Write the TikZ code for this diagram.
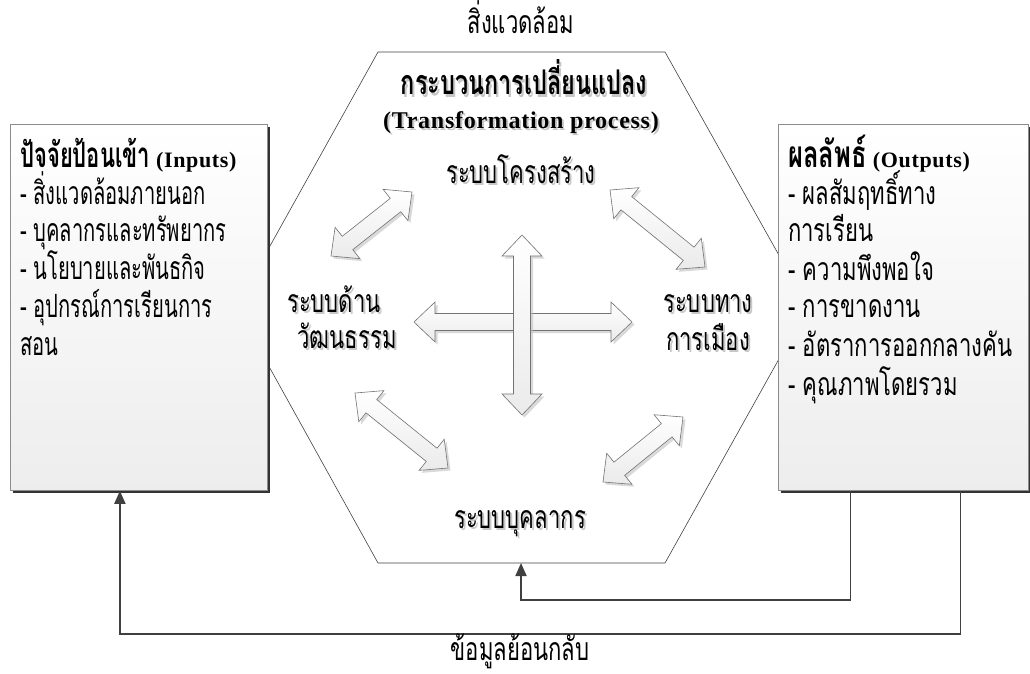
\documentclass[tikz,border=0pt]{standalone}
\usepackage{fontspec}
\setmainfont{Liberation Serif}
\newfontfamily\latb[LetterSpace=3]{Liberation Serif}
\newfontfamily\thai[Script=Thai,FakeStretch=0.69]{Loma}
\newfontfamily\thaiN[Script=Thai,FakeStretch=0.63]{Loma}
\usetikzlibrary{calc,arrows.meta,shadows}
\def\hl{21pt}\def\hw{20pt}\def\sw{8.5pt}
\newcommand\myDblArrow[2]{%
  \path (#1) coordinate (da) (#2) coordinate (db);
  \path ($(da)!\hl!(db)$) coordinate (dp) ($(db)!\hl!(da)$) coordinate (dq);
  \draw[blockarrow] (da) -- ($(dp)!\hw!90:(db)$) -- ($(dp)!\sw!90:(db)$)
    -- ($(dq)!\sw!-90:(da)$) -- ($(dq)!\hw!-90:(da)$) -- (db)
    -- ($(dq)!\hw!90:(da)$) -- ($(dq)!\sw!90:(da)$)
    -- ($(dp)!\sw!-90:(db)$) -- ($(dp)!\hw!-90:(db)$) -- cycle;
}
\newcommand\thbold{\bfseries\fontsize{34}{36}\selectfont}
\newcommand\latbold{\latb\bfseries\fontsize{24}{26}\selectfont}
\newcommand\latboldS{\latb\bfseries\fontsize{22}{24}\selectfont}
\tikzset{
  blockarrow/.style={draw=black!55, line width=0.6pt, top color=white, bottom color=black!8,
    drop shadow={shadow xshift=2.5pt, shadow yshift=-2.5pt, fill=black!25, opacity=0.6}},
  box/.style={draw=black!45, line width=0.8pt, top color=white, bottom color=black!7,
    drop shadow={shadow xshift=3pt, shadow yshift=-3pt, fill=black!80, opacity=1},
    minimum width=257pt, minimum height=366pt, anchor=north west, inner sep=0pt},
  hexline/.style={draw=black!75, line width=0.6pt},
  fb/.style={draw=black!75, line width=1.8pt, -{Triangle[length=13pt,width=11pt]}},
  thtxt/.style={font=\thai\fontsize{32}{34}\selectfont, inner sep=0pt},
  tl/.style={thtxt, anchor=base west},
  tln/.style={font=\thaiN\fontsize{32}{34}\selectfont, inner sep=0pt, anchor=base west},
  tc/.style={thtxt, anchor=base},
  tcs/.style={thtxt, anchor=base, text=black!22},
}
\begin{document}
\begin{tikzpicture}[x=1pt,y=-1pt]
\useasboundingbox (0,0) rectangle (1030,673);
% hexagon
\coordinate (h1) at (378,52);
\coordinate (h2) at (665,52);
\coordinate (h3) at (808,307);
\coordinate (h4) at (665,563);
\coordinate (h5) at (378,563);
\coordinate (h6) at (236,307);
\coordinate (hexbot) at (521,563);
\draw[hexline] (h1) -- (h2) -- (h3) -- (h4) -- (h5) -- (h6) -- cycle;

% texts in hexagon (with light shadows)
\node[tc] (env) at (521,33) {สิ่งแวดล้อม};
\node[tcs] (procs) at (526,97) {\thbold กระบวนการเปลี่ยนแปลง};
\node[tc] (proc) at (524,94) {\thbold กระบวนการเปลี่ยนแปลง};
\node[anchor=base, inner sep=0pt, font=\latbold, text=black!22] (procens) at (523,130) {(Transformation process)};
\node[anchor=base, inner sep=0pt, font=\latbold] (procen) at (521,128) {(Transformation process)};
\node[tcs] (structs) at (523,185) {ระบบโครงสร้าง};
\node[tc] (struct) at (521,183) {ระบบโครงสร้าง};
\node[tcs] (cult1s) at (336,314) {ระบบด้าน};
\node[tc] (cult1) at (334,312) {ระบบด้าน};
\node[tcs] (cult2s) at (349,350) {วัฒนธรรม};
\node[tc] (cult2) at (347,348) {วัฒนธรรม};
\node[tcs] (pol1s) at (710,314) {ระบบทาง};
\node[tc] (pol1) at (708,312) {ระบบทาง};
\node[tcs] (pol2s) at (710,352) {การเมือง};
\node[tc] (pol2) at (708,350) {การเมือง};
\node[tcs] (perss) at (522,530) {ระบบบุคลากร};
\node[tc] (pers) at (520,528) {ระบบบุคลากร};

% block arrows
\coordinate (ul1) at (331,256); \coordinate (ul2) at (412,192);
\coordinate (ur1) at (610,190); \coordinate (ur2) at (705,267);
\coordinate (ll1) at (355,393); \coordinate (ll2) at (448,468);
\coordinate (lr1) at (683,417); \coordinate (lr2) at (603,482);
\coordinate (ch1) at (414,322); \coordinate (ch2) at (632,322);
\coordinate (cv1) at (522,235); \coordinate (cv2) at (522,415);
\myDblArrow{ul1}{ul2}
\myDblArrow{ur1}{ur2}
\myDblArrow{ll1}{ll2}
\myDblArrow{lr1}{lr2}
\myDblArrow{ch1}{ch2}
\myDblArrow{cv1}{cv2}

% boxes
\node[box] (inp) at (10,124) {};
\node[box, minimum width=250pt] (out) at (778,124) {};

\node[tln] (i0) at (20,167) {\bfseries\fontsize{35}{37}\selectfont ปัจจัยป้อนเข้า\,{\latboldS(Inputs)}};
\node[tln] (i1) at (20,204) {- สิ่งแวดล้อมภายนอก};
\node[tln] (i2) at (20,241) {- บุคลากรและทรัพยากร};
\node[tln] (i3) at (20,279) {- นโยบายและพันธกิจ};
\node[tln] (i4) at (20,317) {- อุปกรณ์การเรียนการ};
\node[tln] (i5) at (20,355) {สอน};

\node[tl] (o0) at (788,167) {\bfseries\fontsize{37}{39}\selectfont ผลลัพธ์\,{\latboldS(Outputs)}};
\node[tl] (o1) at (788,204) {- ผลสัมฤทธิ์ทาง};
\node[tl] (o2) at (788,241) {การเรียน};
\node[tl] (o3) at (788,280) {- ความพึงพอใจ};
\node[tl] (o4) at (788,317) {- การขาดงาน};
\node[tl] (o5) at (788,356) {- อัตราการออกกลางคัน};
\node[tl] (o6) at (788,395) {- คุณภาพโดยรวม};

% feedback
\coordinate (f1) at ([xshift=-53pt]out.south);
\coordinate (f2) at ([xshift=57pt]out.south);
\coordinate (g2) at ([xshift=-19pt]inp.south);
\draw[fb] (f1) |- (hexbot |- 0,600) -- (hexbot);
\draw[fb] (f2) |- (g2 |- 0,634) -- (g2);
\node[tc] (fbl) at (520,660) {ข้อมูลย้อนกลับ};
\end{tikzpicture}
\end{document}
